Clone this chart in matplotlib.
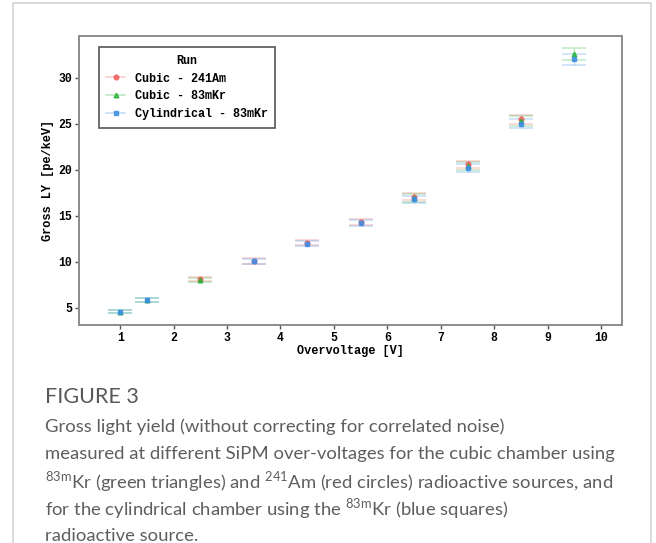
import matplotlib
matplotlib.use("Agg")
import matplotlib.pyplot as plt
from matplotlib.lines import Line2D
from matplotlib.patches import Rectangle

# ---- data ----
x_am = [2.5, 3.5, 4.5, 5.5, 6.5, 7.5, 8.5]
y_am = [8.15, 10.1, 12.1, 14.35, 17.1, 20.6, 25.5]
e_am = [0.25, 0.3, 0.3, 0.35, 0.4, 0.4, 0.5]

x_kr = [1.0, 1.5, 2.5, 6.5, 7.5, 8.5, 9.5]
y_kr = [4.6, 5.85, 8.05, 16.95, 20.4, 25.3, 32.6]
e_kr = [0.15, 0.2, 0.25, 0.4, 0.45, 0.55, 0.65]

x_cyl = [1.0, 1.5, 3.5, 4.5, 5.5, 6.5, 7.5, 8.5, 9.5]
y_cyl = [4.6, 5.85, 10.05, 12.0, 14.25, 16.8, 20.2, 25.0, 32.0]
e_cyl = [0.15, 0.2, 0.3, 0.3, 0.35, 0.4, 0.45, 0.5, 0.6]

labels = ["Cubic - 241Am", "Cubic - 83mKr", "Cylindrical - 83mKr"]
colors = ["#f2615c", "#2bb33a", "#3d8ee8"]
markers = ["o", "^", "s"]

xticks = [1, 2, 3, 4, 5, 6, 7, 8, 9, 10]
yticks = [5, 10, 15, 20, 25, 30]

mono = "Liberation Mono"

fig = plt.figure(figsize=(6.56, 5.43), dpi=100)

# outer panel border
fig.patches.append(Rectangle((13 / 656, -0.05), (651 - 13) / 656, 1.05 - 3 / 543,
                             transform=fig.transFigure, fill=False,
                             edgecolor="#d4d4d4", linewidth=1.2))

ax = fig.add_axes([79 / 656, 1 - 325 / 543, (622 - 79) / 656, (325 - 36) / 543])

series = [(x_am, y_am, e_am), (x_kr, y_kr, e_kr), (x_cyl, y_cyl, e_cyl)]
handles = []
for (xs, ys, es), c, m, lab in zip(series, colors, markers, labels):
    ax.errorbar(xs, ys, yerr=es, fmt="none", ecolor=c, elinewidth=1.0,
                capsize=8.5, capthick=1.1, alpha=0.3, zorder=2)
    ax.plot(xs, ys, linestyle="none", marker=m, color=c, markersize=3.4,
            alpha=0.85, zorder=3)
    h_line = Line2D([], [], color=c, alpha=0.3, linewidth=1.2)
    h_mark = Line2D([], [], color=c, marker=m, linestyle="none", markersize=3.4, alpha=0.85)
    handles.append((h_line, h_mark))

ax.set_xlim(0.23, 10.39)
ax.set_ylim(3.15, 34.55)
ax.set_xticks(xticks)
ax.set_yticks(yticks)

for lab in ax.get_xticklabels() + ax.get_yticklabels():
    lab.set_fontfamily(mono)
    lab.set_fontweight("bold")
    lab.set_fontsize(8.3)
ax.tick_params(length=3, width=1, color="#555555", pad=2)

for s in ax.spines.values():
    s.set_color("#8c8c8c")
    s.set_linewidth(1.4)

ax.set_xlabel("Overvoltage [V]", fontfamily=mono, fontweight="bold", fontsize=8.6, labelpad=1)
ax.set_ylabel("Gross LY [pe/keV]", fontfamily=mono, fontweight="bold", fontsize=8.6, labelpad=3)

leg = ax.legend(handles, labels, title="Run", loc="upper left",
                bbox_to_anchor=(0.036, 0.962), fancybox=False,
                prop={"family": mono, "weight": "bold", "size": 8.5},
                handlelength=1.6, handletextpad=0.8, borderpad=0.65,
                labelspacing=0.5, borderaxespad=0)
leg.get_title().set_fontfamily(mono)
leg.get_title().set_fontweight("bold")
leg.get_title().set_fontsize(8.5)
leg.get_frame().set_edgecolor("#555555")
leg.get_frame().set_linewidth(1.2)
leg.get_frame().set_alpha(1)

# caption
plt.rcParams["mathtext.fontset"] = "custom"
plt.rcParams["mathtext.rm"] = "Lato"
cap_color = "#5e5e5e"
fig.text(45 / 656, 1 - 397 / 543, "FIGURE 3", fontfamily="Lato", fontsize=15.5,
         color="#595959", va="center", ha="left")
lines = [
    "Gross light yield (without correcting for correlated noise)",
    "measured at different SiPM over-voltages for the cubic chamber using",
    r"$^{\mathrm{83m}}$Kr (green triangles) and $^{\mathrm{241}}$Am (red circles) radioactive sources, and",
    r"for the cylindrical chamber using the $^{\mathrm{83m}}$Kr (blue squares)",
    "radioactive source.",
]
for i, t in enumerate(lines):
    fig.text(45 / 656, 1 - (427 + 27.3 * i) / 543, t, fontfamily="Lato",
             fontsize=13.3, color=cap_color, va="center", ha="left")

fig.savefig("out.png", dpi=100)
